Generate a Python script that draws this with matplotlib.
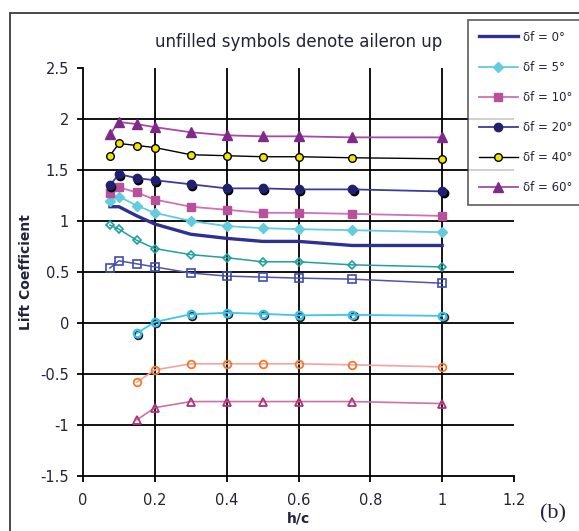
import matplotlib
matplotlib.use("Agg")
import matplotlib.pyplot as plt
import matplotlib.transforms as mtransforms
from matplotlib.patches import Rectangle

# h/c stations
h_full = [0.075, 0.1, 0.15, 0.2, 0.3, 0.4, 0.5, 0.6, 0.75, 1.0]
h_part = [0.15, 0.2, 0.3, 0.4, 0.5, 0.6, 0.75, 1.0]

# filled symbols (aileron down / neutral)
cl_f0 = [1.14, 1.14, 1.05, 0.97, 0.87, 0.83, 0.80, 0.80, 0.76, 0.76]
cl_f5 = [1.20, 1.24, 1.15, 1.08, 1.00, 0.95, 0.93, 0.92, 0.91, 0.89]
cl_f10 = [1.27, 1.33, 1.28, 1.21, 1.14, 1.11, 1.08, 1.08, 1.07, 1.05]
cl_f20 = [1.35, 1.46, 1.42, 1.40, 1.36, 1.32, 1.32, 1.31, 1.31, 1.29]
cl_f40 = [1.64, 1.76, 1.74, 1.72, 1.65, 1.64, 1.63, 1.63, 1.62, 1.61]
cl_f60 = [1.85, 1.97, 1.95, 1.92, 1.87, 1.84, 1.83, 1.83, 1.82, 1.82]

# unfilled symbols (aileron up)
cl_up_diamond = [0.96, 0.92, 0.81, 0.73, 0.67, 0.64, 0.60, 0.60, 0.57, 0.55]
cl_up_square = [0.54, 0.61, 0.58, 0.55, 0.49, 0.46, 0.45, 0.44, 0.43, 0.39]
cl_up_circle = [-0.10, 0.01, 0.085, 0.10, 0.09, 0.075, 0.08, 0.07]
cl_up_orange = [-0.58, -0.46, -0.40, -0.40, -0.40, -0.40, -0.41, -0.43]
cl_up_triangle = [-0.95, -0.83, -0.77, -0.77, -0.77, -0.77, -0.77, -0.79]

x_ticks = [0, 0.2, 0.4, 0.6, 0.8, 1.0, 1.2]
x_tick_labels = ["0", "0.2", "0.4", "0.6", "0.8", "1", "1.2"]
y_ticks = [-1.5, -1, -0.5, 0, 0.5, 1, 1.5, 2, 2.5]
y_tick_labels = ["-1.5", "-1", "-0.5", "0", "0.5", "1", "1.5", "2", "2.5"]

TXT = "#22223a"

fig = plt.figure(figsize=(5.79, 5.31), dpi=100)
ax = fig.add_axes([83 / 579, 1 - 476 / 531, 431 / 579, 408 / 531])

# chart-area border (runs off the right/bottom of the picture)
fig.add_artist(Rectangle((10 / 579, -0.1), 1.0, 1 - 13 / 531 + 0.1, transform=fig.transFigure,
                         fill=False, ec="#3a3a3a", lw=1.3))

# shadow offset for the doubled circle symbols
shadow = mtransforms.offset_copy(ax.transData, fig=fig, x=1.5, y=-1.5, units="dots")

# unfilled series
ax.plot(h_full, cl_up_diamond, color="#1fa0a0", lw=1.1, marker="D", ms=4.5, mfc="none", mec="#1fa0a0", mew=1.2)
ax.plot(h_full, cl_up_square, color="#5252b0", lw=1.1, marker="s", ms=5.5, mfc="none", mec="#3e4eb0", mew=1.2)
ax.plot(h_part, cl_up_circle, color="black", lw=0, marker="o", ms=5.5, mfc="none", mec="#222222", mew=1.3,
        transform=shadow)
ax.plot(h_part, cl_up_circle, color="#40c4ea", lw=1.3, marker="o", ms=5.5, mfc="none", mec="#38c0ea", mew=1.5)
ax.plot(h_part, cl_up_orange, color="#f4a3a3", lw=1.2, marker="o", ms=5.5, mfc="none", mec="#f07828", mew=1.3)
ax.plot(h_part, cl_up_triangle, color="#d070a8", lw=1.2, marker="^", ms=5.5, mfc="none", mec="#b0307a", mew=1.3)

# filled series
ax.plot(h_full, cl_f0, color="#2e3192", lw=2.4, label="δf = 0°")
ax.plot(h_full, cl_f5, color="#62cbdc", lw=1.3, marker="D", ms=5, mfc="#62cbdc", mec="#62cbdc", label="δf = 5°")
ax.plot(h_full, cl_f10, color="#d070b8", lw=1.3, marker="s", ms=5.5, mfc="#b8509c", mec="#b8509c", label="δf = 10°")
ax.plot(h_full, cl_f20, lw=0, marker="o", ms=6, mfc="black", mec="black", transform=shadow)
ax.plot(h_full, cl_f20, color="#3c3c9c", lw=1.3, marker="o", ms=6, mfc="#20206e", mec="#20206e", label="δf = 20°")
ax.plot(h_full, cl_f40, color="black", lw=1.0, marker="o", ms=5.5, mfc="#f2e600", mec="black", mew=1.0, label="δf = 40°")
ax.plot(h_full, cl_f60, color="#a848a8", lw=1.3, marker="^", ms=6.5, mfc="#7e2a88", mec="#7e2a88", label="δf = 60°")

ax.set_xlim(0, 1.2)
ax.set_ylim(-1.5, 2.5)
ax.set_xticks(x_ticks)
ax.set_xticklabels(x_tick_labels)
ax.set_yticks(y_ticks)
ax.set_yticklabels(y_tick_labels)
ax.tick_params(axis="both", direction="out", length=4, width=1.3, colors="black", labelcolor=TXT, labelsize=10.5)
ax.tick_params(axis="x", pad=8)
ax.tick_params(axis="y", pad=6)

ax.grid(True, color="black", lw=1.3)
ax.set_axisbelow(True)
ax.xaxis.get_gridlines()[0].set_visible(False)
ax.xaxis.get_gridlines()[-1].set_visible(False)
ax.yaxis.get_gridlines()[0].set_visible(False)
ax.yaxis.get_gridlines()[-1].set_visible(False)
ax.spines["top"].set_visible(False)
ax.spines["right"].set_visible(False)
ax.spines["left"].set_linewidth(1.3)
ax.spines["bottom"].set_linewidth(1.3)

ax.set_xlabel("h/c", fontweight="bold", fontsize=10, color=TXT, labelpad=3)
ax.set_ylabel("Lift Coefficient", fontweight="bold", fontsize=10, color=TXT, labelpad=5)

fig.text(299 / 579, 1 - 42 / 531, "unfilled symbols denote aileron up", ha="center", va="center",
         fontsize=12, color=TXT)
fig.text(553 / 579, 1 - 514 / 531, "(b)", ha="center", va="center", fontsize=16,
         family="Liberation Serif", color=TXT)

leg = ax.legend(loc="upper left", bbox_to_anchor=(468 / 579, 1 - 20 / 531), bbox_transform=fig.transFigure,
                borderaxespad=0, fontsize=8.5, frameon=True, fancybox=False, edgecolor="#333333",
                handlelength=3.3, labelspacing=1.45, borderpad=0.9, handletextpad=0.5, labelcolor=TXT)
leg.get_frame().set_linewidth(1.2)

fig.savefig("out.png", dpi=100)
